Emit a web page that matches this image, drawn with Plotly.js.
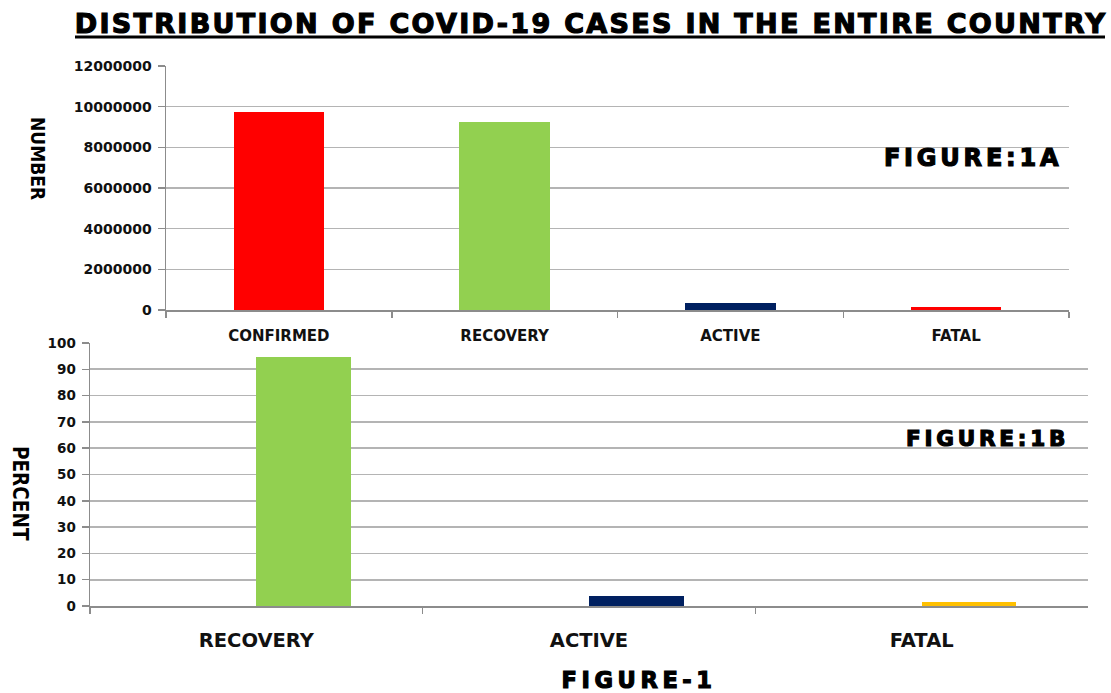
<!DOCTYPE html>
<html>
<head>
<meta charset="utf-8">
<script src="https://cdn.plot.ly/plotly-3.0.1.min.js"></script>
<style>
  html, body { margin: 0; padding: 0; background: #fff; }
  #chart { width: 1111px; height: 693px; }
  .heavy text, .gtitle { stroke: #000; stroke-width: 1.2px; paint-order: stroke; }
  .gtitle { letter-spacing: 2.3px; }
  .heavy text { letter-spacing: 3.8px; }
  .heavy.last text { letter-spacing: 4.6px; }
</style>
</head>
<body>
<div id="chart"></div>
<script>
// Case counts across the country
const countCategories = ['CONFIRMED', 'RECOVERY', 'ACTIVE', 'FATAL'];
const countValues = [9760000, 9260000, 365000, 142000];

// Share of confirmed cases
const shareCategories = ['RECOVERY', 'ACTIVE', 'FATAL'];
const shareValues = [94.8, 3.8, 1.45];

// Axis tick values
const countTicks = [0, 2000000, 4000000, 6000000, 8000000, 10000000, 12000000];
const shareTicks = [0, 10, 20, 30, 40, 50, 60, 70, 80, 90, 100];

const countColors = ['#ff0000', '#92d050', '#002060', '#ff0000'];
const shareColors = ['#92d050', '#002060', '#ffc000'];

const tickFont = { family: 'DejaVu Sans, sans-serif', size: 14, color: '#111', weight: 'bold' };
const gridColor = '#b4b4b4';
const lineColor = '#8c8c8c';
const heavyFamily = 'DejaVu Sans, Verdana, sans-serif';

const traces = [
  {
    type: 'bar', x: countCategories, y: countValues,
    marker: { color: countColors }, width: 0.4,
    xaxis: 'x', yaxis: 'y', hoverinfo: 'x+y'
  },
  {
    type: 'bar', x: shareCategories, y: shareValues,
    marker: { color: shareColors }, width: 0.285, offset: 0,
    xaxis: 'x2', yaxis: 'y2', hoverinfo: 'x+y'
  }
];

const yCommon = {
  showgrid: true, gridcolor: gridColor, gridwidth: 1.6,
  zeroline: false, showline: true, linecolor: lineColor, linewidth: 1.5,
  ticks: 'outside', ticklen: 7, tickcolor: lineColor, tickwidth: 1.5,
  ticklabelstandoff: 3,
  fixedrange: true
};
const xCommon = {
  type: 'category', showgrid: false, zeroline: false,
  showline: true, linecolor: lineColor, linewidth: 1.5,
  ticks: 'outside', tickson: 'boundaries', ticklen: 6, tickcolor: lineColor, tickwidth: 1.5,
  fixedrange: true
};

const layout = {
  width: 1111, height: 693,
  margin: { l: 0, r: 0, t: 0, b: 0 },
  paper_bgcolor: '#fff', plot_bgcolor: '#fff',
  showlegend: false,
  bargap: 0,
  title: {
    text: 'DISTRIBUTION OF COVID-19 CASES IN THE ENTIRE COUNTRY',
    font: { family: heavyFamily, size: 27, color: '#000', weight: 'bold' },
    x: 0.532, xanchor: 'center', xref: 'paper',
    y: 0.966, yanchor: 'middle', yref: 'container'
  },
  xaxis: Object.assign({}, xCommon, {
    domain: [166 / 1111, 1069 / 1111], anchor: 'y',
    tickfont: Object.assign({}, tickFont, { size: 15 }),
    ticklabelstandoff: 11
  }),
  yaxis: Object.assign({}, yCommon, {
    domain: [1 - 310 / 693, 1 - 66 / 693], anchor: 'x',
    range: [0, 12000000], tickvals: countTicks, tickformat: 'd',
    tickfont: tickFont
  }),
  xaxis2: Object.assign({}, xCommon, {
    domain: [90 / 1111, 1088 / 1111], anchor: 'y2',
    tickfont: Object.assign({}, tickFont, { size: 19.5 }),
    ticklabelstandoff: 16
  }),
  yaxis2: Object.assign({}, yCommon, {
    domain: [1 - 606 / 693, 1 - 343 / 693], anchor: 'x2',
    range: [0, 100], tickvals: shareTicks,
    tickfont: Object.assign({}, tickFont, { size: 13.5 })
  }),
  shapes: [
    // underline of the heading
    { type: 'line', xref: 'paper', yref: 'paper',
      x0: 75 / 1111, x1: 1105 / 1111, y0: 1 - 37 / 693, y1: 1 - 37 / 693,
      line: { color: '#000', width: 3 } }
  ],
  annotations: [
    { text: 'NUMBER', xref: 'paper', yref: 'paper', x: 38 / 1111, y: 1 - 158 / 693,
      textangle: 90, showarrow: false, xanchor: 'center', yanchor: 'middle',
      font: { family: 'Liberation Sans Narrow, DejaVu Sans Condensed, sans-serif', size: 19, color: '#000', weight: 'bold' } },
    { text: 'PERCENT', xref: 'paper', yref: 'paper', x: 20 / 1111, y: 1 - 493 / 693,
      textangle: 90, showarrow: false, xanchor: 'center', yanchor: 'middle',
      font: { family: 'Liberation Sans Narrow, DejaVu Sans Condensed, sans-serif', size: 20.5, color: '#000', weight: 'bold' } },
    { text: 'FIGURE:1A', xref: 'paper', yref: 'paper', x: 973 / 1111, y: 1 - 158 / 693,
      showarrow: false, xanchor: 'center', yanchor: 'middle',
      font: { family: heavyFamily, size: 24, color: '#000', weight: 'bold' } },
    { text: 'FIGURE:1B', xref: 'paper', yref: 'paper', x: 987 / 1111, y: 1 - 438 / 693,
      showarrow: false, xanchor: 'center', yanchor: 'middle',
      font: { family: heavyFamily, size: 21.5, color: '#000', weight: 'bold' } },
    { text: 'FIGURE-1', xref: 'paper', yref: 'paper', x: 639 / 1111, y: 1 - 680 / 693,
      showarrow: false, xanchor: 'center', yanchor: 'middle',
      font: { family: heavyFamily, size: 22.5, color: '#000', weight: 'bold' } }
  ]
};

Plotly.newPlot('chart', traces, layout, { displayModeBar: false, staticPlot: true }).then(function () {
  // thicken the figure labels
  const notes = document.querySelectorAll('.annotation');
  notes.forEach(function (g, i) {
    if (i >= 2) g.classList.add('heavy');
    if (i === notes.length - 1) g.classList.add('last');
  });
});
</script>
</body>
</html>
